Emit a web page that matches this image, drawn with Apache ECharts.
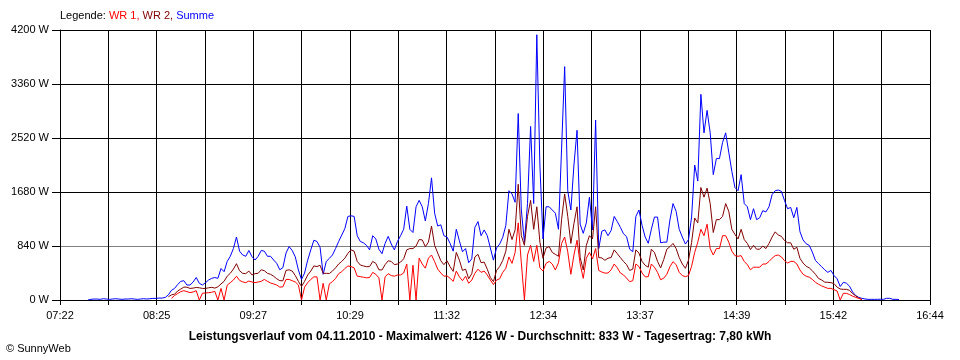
<!DOCTYPE html>
<html><head><meta charset="utf-8">
<script src="https://cdn.jsdelivr.net/npm/echarts@6/dist/echarts.min.js"></script>
<style>html,body{margin:0;padding:0;background:#fff}#c{width:960px;height:360px}</style>
</head><body><div id="c"></div>
<script>
// Axis range and tick labels
const xStart = '07:22';
const xEnd = '16:44';
const xTickLabels = ['07:22','08:25','09:27','10:29','11:32','12:34','13:37','14:39','15:42','16:44'];
const yMax = 4200;
const yStep = 840;
const sampleMinutes = 2;

// Summe (blue), samples every 2 minutes from summeStart
const summeStart = '07:40';
const summe = [
0,10,15,15,10,20,15,10,15,20,15,10,15,15,20,15,10,15,20,15,
20,25,25,30,30,40,80,150,180,240,
290,300,233,233,280,350,260,233,270,311,
337,350,337,490,440,600,680,800,980,760,
700,680,770,674,622,680,770,760,680,680,
622,570,470,505,730,830,770,670,467,320,
420,620,780,930,910,820,400,600,648,700,
800,910,1010,1110,1300,1310,1300,1000,910,890,
850,780,1000,950,790,720,880,990,870,780,
910,1000,1100,1460,1100,1050,1450,1550,1450,1230,
1500,1900,1350,1150,1170,1000,980,880,760,1100,
920,750,800,580,640,1130,1220,1000,1090,1000,
810,620,810,870,975,1160,1700,1650,1520,2900,
1400,900,1500,2700,1500,4126,2100,950,1450,1450,
1400,1350,1100,2350,3630,1700,1400,2100,2640,1180,
1037,1200,1600,1090,2800,800,1070,1090,1000,1080,
1300,1220,1130,1030,985,790,750,1300,1400,1160,
980,882,1100,1290,1290,890,900,900,1244,1500,
1380,1100,980,870,940,1290,2100,1850,3200,2600,
2950,2600,1950,2200,2200,2450,2600,2300,2000,1750,
1700,1950,1500,1450,1250,1420,1250,1280,1390,1370,
1450,1640,1700,1711,1690,1550,1420,1440,1280,1440,
1063,935,875,850,745,615,565,518,470,430,
460,380,330,210,275,262,215,125,68,40,
26,16,10,10,10,10,12,10,26,26,10,10,8
];

// WR 2 (dark red)
const wr2Start = '08:32';
const wr2 = [
50,80,90,140,
170,200,200,180,185,195,190,180,180,190,
197,185,205,250,290,370,415,480,565,455,
415,410,450,390,410,415,470,456,415,400,
370,330,300,300,460,470,450,380,290,210,
290,389,450,530,520,540,415,415,412,450,
500,560,600,650,726,780,760,600,544,530,
518,520,600,570,470,467,550,610,600,550,
560,590,640,780,800,800,840,940,935,830,
900,1150,850,730,610,550,610,518,445,740,
620,460,480,330,410,670,710,580,590,480,
350,285,460,520,615,760,1100,940,1090,1800,
1000,850,1300,1550,1100,1450,900,650,810,830,
740,710,680,1250,1650,1300,880,1190,1450,660,
467,850,1000,950,1450,660,655,617,650,660,
780,720,660,600,550,460,480,780,730,600,
540,510,790,740,600,500,630,790,830,880,
800,660,560,493,620,895,1275,1200,1750,1600,
1740,1500,1050,1250,1250,1300,1500,1380,1100,1020,
950,1100,940,880,785,850,790,790,840,800,
880,980,1060,1010,990,925,890,890,790,820,
648,575,525,500,455,400,335,311,278,275,
270,255,200,171,166,166,150,100,65,30,5
];

// WR 1 (red)
const wr1Start = '08:34';
const wr1 = [
26,70,100,
130,145,130,115,125,145,0,105,110,114,
120,135,0,180,0,230,270,310,370,305,
282,270,295,280,270,280,290,320,290,265,
250,233,200,205,320,320,300,280,233,0,
200,270,320,360,360,0,260,0,252,285,
335,410,440,490,530,520,500,370,363,355,
345,350,430,400,345,0,360,410,380,370,
389,389,420,560,0,540,0,650,560,495,
650,700,596,480,420,370,375,337,290,450,
360,300,370,260,310,415,480,430,450,389,
311,240,311,330,430,493,670,570,740,1200,
580,0,700,850,600,850,500,450,570,600,
560,467,580,880,980,750,400,700,930,560,
337,650,740,640,800,460,435,418,420,470,
560,500,420,390,340,285,300,560,520,420,
360,363,560,510,430,315,340,400,518,596,
550,430,380,363,380,525,740,900,1100,1000,
1180,800,700,800,800,1000,1000,900,760,690,
680,690,600,550,470,510,510,510,560,560,
600,650,690,700,670,612,575,600,600,560,
467,400,370,355,320,275,245,220,200,181,
181,160,140,0,104,104,85,60,40,26,10
];

const toMin = s => { const p = s.split(':'); return (+p[0]) * 60 + (+p[1]); };
const span = toMin(xEnd) - toMin(xStart);
const divisions = (xTickLabels.length - 1) * 2;
const minPerDiv = span / divisions;
const build = (start, arr) => arr.map((v, i) => [(toMin(start) + i * sampleMinutes - toMin(xStart)) / minPerDiv, v]);

const FONT = 'Liberation Sans';
const chart = echarts.init(document.getElementById('c'), null, {renderer: 'canvas'});
chart.setOption({
  animation: false,
  backgroundColor: '#ffffff',
  grid: {left: 60, right: 30, top: 30, bottom: 60, containLabel: false},
  xAxis: {
    type: 'value', min: 0, max: divisions, interval: 1,
    axisLine: {show: true, lineStyle: {color: '#000', width: 1}},
    axisTick: {show: true, length: 5, lineStyle: {color: '#000'}},
    splitLine: {show: true, lineStyle: {color: '#000', width: 1}},
    axisLabel: {
      show: true, margin: 10, color: '#000', fontFamily: FONT, fontSize: 11,
      showMinLabel: true, showMaxLabel: true,
      formatter: v => { const k = Math.round(v); return k % 2 === 0 ? xTickLabels[k / 2] : ''; }
    }
  },
  yAxis: {
    type: 'value', min: 0, max: yMax, interval: yStep,
    axisLine: {show: true, lineStyle: {color: '#000', width: 1}},
    axisTick: {show: true, length: 8, lineStyle: {color: '#000'}},
    splitLine: {show: true, lineStyle: {color: ['#000', '#808080', '#000', '#000', '#000', '#000'], width: 1}},
    axisLabel: {margin: 11, color: '#000', fontFamily: FONT, fontSize: 11, formatter: v => v + ' W'}
  },
  graphic: [
    {type: 'text', left: 60, top: 10, silent: true, style: {
      text: '{k|Legende: }{a|WR 1, }{b|WR 2, }{c|Summe}',
      fontFamily: FONT, fontSize: 11,
      rich: {
        k: {fill: '#000', fontFamily: FONT, fontSize: 11},
        a: {fill: '#ff0000', fontFamily: FONT, fontSize: 11},
        b: {fill: '#800000', fontFamily: FONT, fontSize: 11},
        c: {fill: '#0000ff', fontFamily: FONT, fontSize: 11}
      }
    }},
    {type: 'text', x: 480, y: 337, silent: true, style: {
      text: 'Leistungsverlauf vom 04.11.2010 - Maximalwert: 4126 W - Durchschnitt: 833 W - Tagesertrag: 7,80 kWh',
      fill: '#000', fontFamily: FONT, fontSize: 12, fontWeight: 'bold', align: 'center', verticalAlign: 'middle'
    }},
    {type: 'text', x: 6, y: 349, silent: true, style: {
      text: '© SunnyWeb', fill: '#000', fontFamily: FONT, fontSize: 11, align: 'left', verticalAlign: 'middle'
    }}
  ],
  series: [
    {name: 'Summe', type: 'line', data: build(summeStart, summe), showSymbol: false, symbol: 'none',
     lineStyle: {color: '#0000ff', width: 1}, itemStyle: {color: '#0000ff'}, silent: true, z: 2},
    {name: 'WR 2', type: 'line', data: build(wr2Start, wr2), showSymbol: false, symbol: 'none',
     lineStyle: {color: '#800000', width: 1}, itemStyle: {color: '#800000'}, silent: true, z: 3},
    {name: 'WR 1', type: 'line', data: build(wr1Start, wr1), showSymbol: false, symbol: 'none',
     lineStyle: {color: '#ff0000', width: 1}, itemStyle: {color: '#ff0000'}, silent: true, z: 4}
  ]
});
</script>
</body></html>
